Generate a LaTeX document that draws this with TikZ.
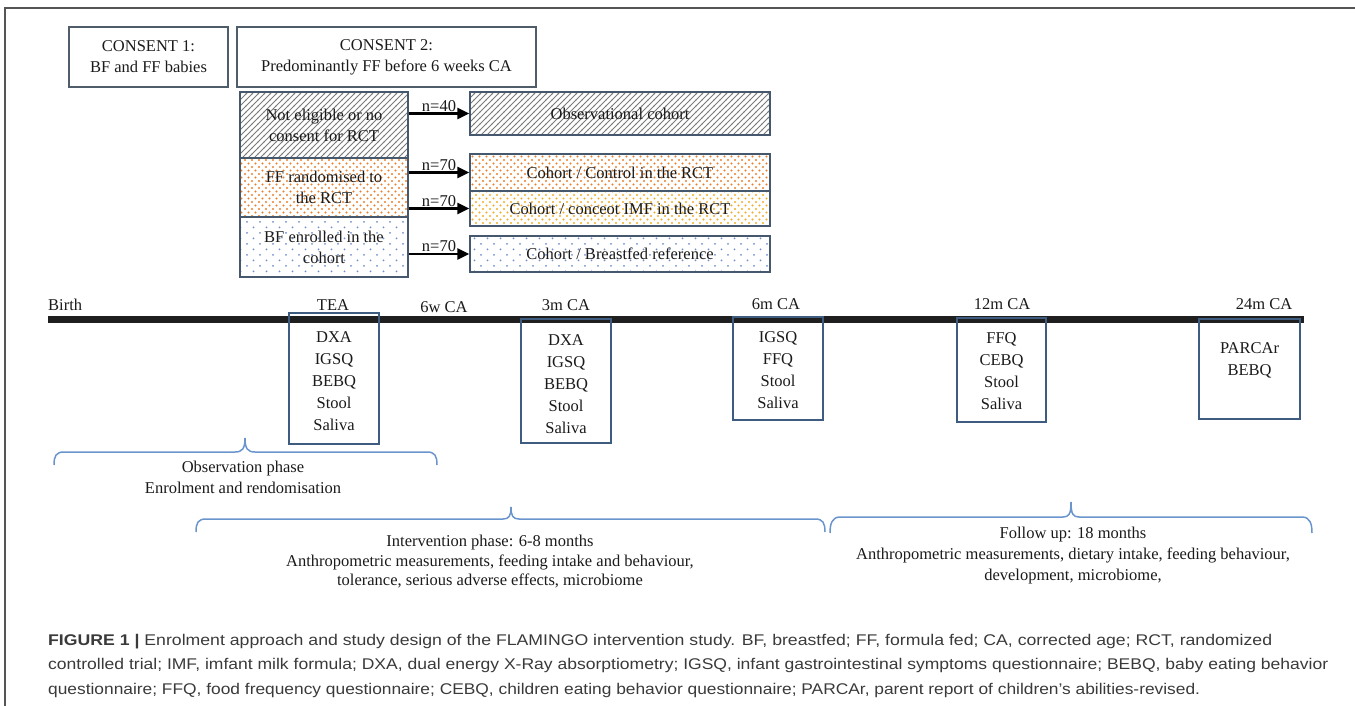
\documentclass[tikz,border=0pt]{standalone}
\usepackage{fontspec}
\usepackage{graphicx}
\setmainfont{Liberation Serif}
\newfontfamily\capfont{Liberation Sans}
\usetikzlibrary{arrows.meta,patterns}

\definecolor{txt}{HTML}{1A1A1A}
\definecolor{slate}{HTML}{4F5D6B}
\definecolor{stackc}{HTML}{46586E}
\definecolor{tlc}{HTML}{3E5C80}
\definecolor{bracec}{HTML}{6A95CC}
\definecolor{hatchc}{HTML}{7A7A7A}
\definecolor{orangec}{HTML}{E8802E}
\definecolor{yellowc}{HTML}{F0AE28}
\definecolor{bluec}{HTML}{6F8FCC}
\definecolor{capc}{HTML}{3A3A3A}
\definecolor{framec}{HTML}{555555}

\pgfdeclarepatternformonly{hatchA}{\pgfqpoint{-1pt}{-1pt}}{\pgfqpoint{7pt}{7pt}}{\pgfqpoint{6pt}{6pt}}{%
  \pgfsetlinewidth{0.8pt}%
  \pgfpathmoveto{\pgfqpoint{-0.5pt}{-0.5pt}}\pgfpathlineto{\pgfqpoint{6.5pt}{6.5pt}}\pgfusepath{stroke}}
\pgfdeclarepatternformonly{dotsD}{\pgfqpoint{-2pt}{-2pt}}{\pgfqpoint{9pt}{9pt}}{\pgfqpoint{7pt}{7pt}}{%
  \pgfpathcircle{\pgfqpoint{0pt}{0pt}}{1.1pt}%
  \pgfpathcircle{\pgfqpoint{3.5pt}{3.5pt}}{1.1pt}\pgfusepath{fill}}
\pgfdeclarepatternformonly{dotsS}{\pgfqpoint{-2pt}{-2pt}}{\pgfqpoint{15pt}{13pt}}{\pgfqpoint{13pt}{11pt}}{%
  \pgfpathcircle{\pgfqpoint{0pt}{0pt}}{1pt}%
  \pgfpathcircle{\pgfqpoint{6.5pt}{5.5pt}}{1pt}\pgfusepath{fill}}

\tikzset{
  dtext/.style={font=\fontsize{16.5}{21}\selectfont, text=txt, align=center, inner sep=0pt},
  cbox/.style={dtext, draw=slate, line width=1.2pt},
  sbox/.style={dtext, draw=stackc, line width=1.2pt},
  tbox/.style={draw=tlc, line width=1.2pt, inner sep=0pt},
  tltext/.style={font=\fontsize{16.5}{22}\selectfont, text=txt, align=center, inner sep=0pt},
  tlabel/.style={font=\fontsize{16.5}{20}\selectfont, text=txt, inner sep=0pt},
  arr/.style={line width=2.4pt, -{Triangle[length=12pt,width=11pt]}},
  nlab/.style={font=\fontsize{16.5}{20}\selectfont, text=txt, inner sep=1pt, above},
  brace/.style={draw=bracec, line width=1.5pt},
  captxt/.style={font=\capfont\fontsize{15.5}{18}\selectfont, text=capc, inner sep=0pt, anchor=base west},
  tlbar/.style={line width=7.5pt, draw=black!88},
  framel/.style={draw=framec, line width=2pt},
}

\begin{document}
\begin{tikzpicture}[x=1pt,y=-1pt]
\useasboundingbox (0,0) rectangle (1355,706);
\draw[framel] (5,706) -- (5,8) -- (1355,8);

% consent boxes
\node[cbox, minimum width=159pt, minimum height=60pt] (c1) at (148.5,57) {CONSENT 1:\\BF and FF babies};
\node[cbox, minimum width=299pt, minimum height=60pt] (c2) at (386.5,57) {CONSENT 2:\\Predominantly FF before 6 weeks CA};

% left stack
\node[sbox, minimum width=168pt, minimum height=66pt, pattern=hatchA, pattern color=hatchc] (ne) at (324,125) {Not eligible or no\\consent for RCT};
\node[sbox, minimum width=168pt, minimum height=59pt, pattern=dotsD, pattern color=orangec] (ffr) at (324,187.5) {FF randomised to\\the RCT};
\node[sbox, minimum width=168pt, minimum height=60pt, pattern=dotsS, pattern color=bluec] (bfe) at (324,247) {BF enrolled in the\\cohort};

% right boxes
\node[sbox, minimum width=300pt, minimum height=43pt, pattern=hatchA, pattern color=hatchc] (obs) at (620,113.5) {Observational cohort};
\node[sbox, minimum width=300pt, minimum height=37pt, pattern=dotsD, pattern color=orangec] (ctrl) at (620,172.5) {Cohort / Control in the RCT};
\node[sbox, minimum width=300pt, minimum height=35pt, pattern=dotsD, pattern color=yellowc] (imf) at (620,208.5) {Cohort / conceot IMF in the RCT};
\node[sbox, minimum width=300pt, minimum height=36pt, pattern=dotsS, pattern color=bluec] (bfr) at (620,254) {Cohort / Breastfed reference};

% arrows
\draw[arr] (ne.east |- obs.west) -- node[nlab]{n=40} (obs.west);
\draw[arr] (ffr.east |- ctrl.west) -- node[nlab]{n=70} (ctrl.west);
\draw[arr] (ffr.east |- imf.west) -- node[nlab]{n=70} (imf.west);
\draw[arr] (bfe.east |- bfr.west) -- node[nlab]{n=70} (bfr.west);

% timeline
\coordinate (tlA) at (48,319.5);
\coordinate (tlB) at (1304,319.5);
\draw[tlbar] (tlA) -- (tlB);

\node[tlabel, anchor=base west] (birth) at (48,310) {Birth};
\node[tlabel, anchor=base] (tea) at (333,310) {TEA};
\node[tlabel, anchor=base] (w6) at (444,312) {6w CA};
\node[tlabel, anchor=base] (m3) at (566,310) {3m CA};
\node[tlabel, anchor=base] (m6) at (776,309) {6m CA};
\node[tlabel, anchor=base] (m12) at (1002,309) {12m CA};
\node[tlabel, anchor=base] (m24) at (1264,309) {24m CA};

\node[tbox, minimum width=90pt, minimum height=131pt] (teaB) at (334,378.5) {};
\node[tltext] (teaT) at (334,381) {DXA\\IGSQ\\BEBQ\\Stool\\Saliva};
\node[tbox, minimum width=90pt, minimum height=124pt] (m3B) at (566,381) {};
\node[tltext] (m3T) at (566,384) {DXA\\IGSQ\\BEBQ\\Stool\\Saliva};
\node[tbox, minimum width=90pt, minimum height=103pt] (m6B) at (778,368.5) {};
\node[tltext] (m6T) at (778,370.5) {IGSQ\\FFQ\\Stool\\Saliva};
\node[tbox, minimum width=89pt, minimum height=104pt] (m12B) at (1001.5,370) {};
\node[tltext] (m12T) at (1001.5,371.5) {FFQ\\CEBQ\\Stool\\Saliva};
\node[tbox, minimum width=101pt, minimum height=100pt] (m24B) at (1249.5,369) {};
\node[tltext] (m24T) at (1249.5,360.5) {PARCAr\\BEBQ};

% braces
\draw[brace] (54,465) .. controls (54,456) and (56,452) .. (64,452) -- (235,452)
  .. controls (242,452) and (245,449) .. (245,438)
  .. controls (245,449) and (248,452) .. (255,452) -- (427,452)
  .. controls (435,452) and (437,456) .. (437,465);
\draw[brace] (196,532) .. controls (196,523) and (198,519) .. (206,519) -- (503,519)
  .. controls (509,519) and (511,516) .. (511,507)
  .. controls (511,516) and (513,519) .. (519,519) -- (815,519)
  .. controls (823,519) and (825,523) .. (825,532);
\draw[brace] (830,533) .. controls (830,524) and (832,517) .. (840,517) -- (1063,517)
  .. controls (1069,517) and (1071,514) .. (1071,502)
  .. controls (1071,514) and (1073,517) .. (1079,517) -- (1302,517)
  .. controls (1310,517) and (1312,524) .. (1312,533);

\node[dtext] (obsT) at (243,477) {Observation phase\\Enrolment and rendomisation};
\node[dtext, font=\fontsize{16.5}{19.5}\selectfont] (intT) at (490,562) {Intervention phase: 6-8 months\\Anthropometric measurements, feeding intake and behaviour,\\tolerance, serious adverse effects, microbiome};
\node[dtext] (fuT) at (1073,556) {Follow up: 18 months\\Anthropometric measurements, dietary intake, feeding behaviour,\\development, microbiome,};

% caption
\node[captxt] (cap1) at (48,645) {\resizebox{1224pt}{\height}{\textbf{FIGURE 1 |} Enrolment approach and study design of the FLAMINGO intervention study. BF, breastfed; FF, formula fed; CA, corrected age; RCT, randomized}};
\node[captxt] (cap2) at (48,669) {\resizebox{1280pt}{\height}{controlled trial; IMF, imfant milk formula; DXA, dual energy X-Ray absorptiometry; IGSQ, infant gastrointestinal symptoms questionnaire; BEBQ, baby eating behavior}};
\node[captxt] (cap3) at (48,694) {\resizebox{1152pt}{\height}{questionnaire; FFQ, food frequency questionnaire; CEBQ, children eating behavior questionnaire; PARCAr, parent report of children’s abilities-revised.}};
\end{tikzpicture}
\end{document}
